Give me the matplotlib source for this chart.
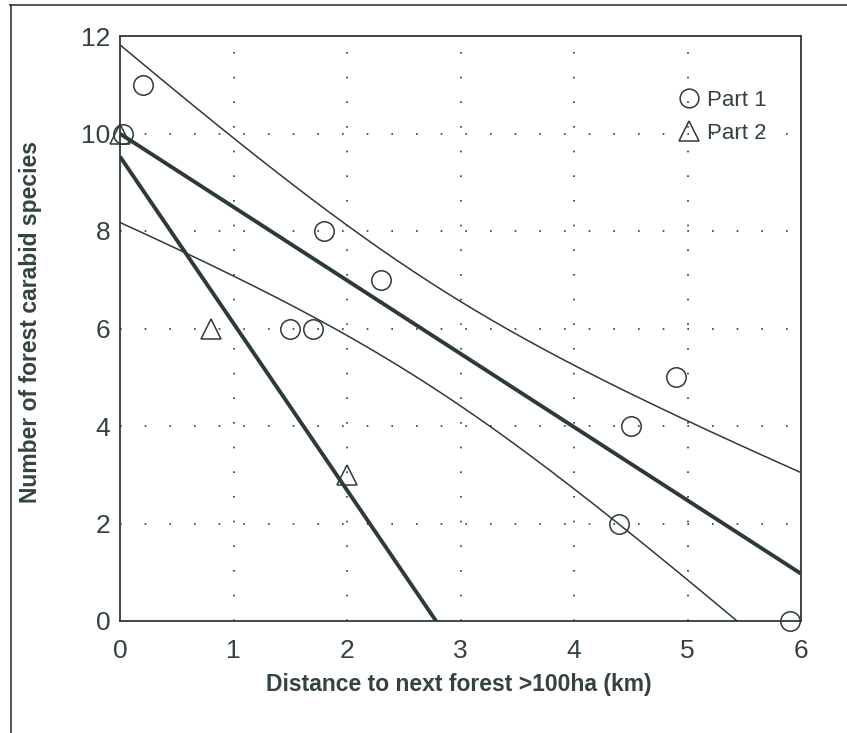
import numpy as np
import matplotlib
matplotlib.use("Agg")
import matplotlib.pyplot as plt
from matplotlib.lines import Line2D

# ---- data ----
part1_x = [0.03, 0.2, 1.5, 1.7, 1.8, 2.3, 4.4, 4.5, 4.9, 5.9]
part1_y = [10, 11, 6, 6, 8, 7, 2, 4, 5, 0]
part2_x = [0.0, 0.8, 2.0]
part2_y = [10, 6, 3]
x_ticks = [0, 1, 2, 3, 4, 5, 6]
y_ticks = [0, 2, 4, 6, 8, 10, 12]
legend_labels = ["Part 1", "Part 2"]
t_975_df8 = 2.306  # Student t quantile used for the 95% band (n=10)

INK = "#2c3c31"
TXT = "#34443a"

fig = plt.figure(figsize=(8.47, 7.33), dpi=100)
ax = fig.add_axes([120 / 847, 1 - 621 / 733, (801 - 120) / 847, (621 - 36) / 733])

# outer frame lines (top and left)
fig.add_artist(Line2D([10 / 847, 1.0], [1 - 4.5 / 733, 1 - 4.5 / 733],
                      transform=fig.transFigure, color=INK, lw=1.2))
fig.add_artist(Line2D([10.5 / 847, 10.5 / 847], [0.0, 1 - 4.5 / 733],
                      transform=fig.transFigure, color=INK, lw=1.2))

ax.set_xlim(0, 6)
ax.set_ylim(0, 12)

# dotted grid
for gx in x_ticks[1:-1]:
    ax.axvline(gx, color=INK, lw=1.2, ls=(0, (1, 13.8)), zorder=0)
for gy in y_ticks[1:-1]:
    ax.axhline(gy, color=INK, lw=1.2, ls=(0, (1, 13.8)), zorder=0)

# regression for Part 1 with 95% confidence band of the mean
x1 = np.asarray(part1_x, float)
y1 = np.asarray(part1_y, float)
b1, a1 = np.polyfit(x1, y1, 1)
n1 = len(x1)
resid = y1 - (a1 + b1 * x1)
s = np.sqrt(np.sum(resid ** 2) / (n1 - 2))
sxx = np.sum((x1 - x1.mean()) ** 2)
xx = np.linspace(0, 6, 300)
fit1 = a1 + b1 * xx
half = t_975_df8 * s * np.sqrt(1 / n1 + (xx - x1.mean()) ** 2 / sxx)
ax.plot(xx, fit1, color=INK, lw=2.8, solid_capstyle="butt")
ax.plot(xx, fit1 + half, color=INK, lw=1.1)
ax.plot(xx, fit1 - half, color=INK, lw=1.1)

# regression for Part 2
x2 = np.asarray(part2_x, float)
y2 = np.asarray(part2_y, float)
b2, a2 = np.polyfit(x2, y2, 1)
ax.plot(xx, a2 + b2 * xx, color=INK, lw=2.8, solid_capstyle="butt")

# points
ax.plot(part1_x, part1_y, ls="none", marker="o", ms=14, mfc="none",
        mec=INK, mew=1.1, clip_on=False, zorder=5)
ax.plot(part2_x, part2_y, ls="none", marker="^", ms=15, mfc="none",
        mec=INK, mew=1.1, clip_on=False, zorder=5)

# axes style
for sp in ax.spines.values():
    sp.set_color(INK)
    sp.set_linewidth(1.3)
ax.tick_params(length=0, colors=TXT, labelsize=19)
ax.set_xticks(x_ticks)
ax.set_yticks(y_ticks)
ax.set_xticklabels([str(v) for v in x_ticks],
                   family=["Liberation Sans Narrow", "Liberation Sans"])
ax.set_yticklabels([str(v) for v in y_ticks],
                   family=["Liberation Sans Narrow", "Liberation Sans"])
ax.tick_params(axis="x", pad=13)
ax.tick_params(axis="y", pad=7)

ax.set_xlabel("Distance to next forest >100ha (km)", family="Liberation Sans",
              fontsize=16.5, fontweight="bold", color=TXT)
ax.set_ylabel("Number of forest carabid species", family="Liberation Sans",
              fontsize=16.5, fontweight="bold", color=TXT)
ax.xaxis.set_label_coords((459 - 120) / 681, (621 - 684) / 585)
ax.yaxis.set_label_coords((31 - 120) / 681, (621 - 322) / 585)
ax.xaxis.label.set_va("center")
ax.yaxis.label.set_va("center")

handles = [
    Line2D([], [], ls="none", marker="o", ms=13.5, mfc="none", mec=INK, mew=1.1),
    Line2D([], [], ls="none", marker="^", ms=15, mfc="none", mec=INK, mew=1.1),
]
leg = ax.legend(handles, legend_labels, loc="upper left",
                bbox_to_anchor=((678 - 120) / 681, 1 - (90 - 36) / 585),
                frameon=False, handlelength=1.0, handletextpad=0.3,
                labelspacing=0.55, borderpad=0, borderaxespad=0,
                prop={"family": "Liberation Sans", "size": 16})
for t in leg.get_texts():
    t.set_color(TXT)

fig.savefig("out.png", dpi=100)
